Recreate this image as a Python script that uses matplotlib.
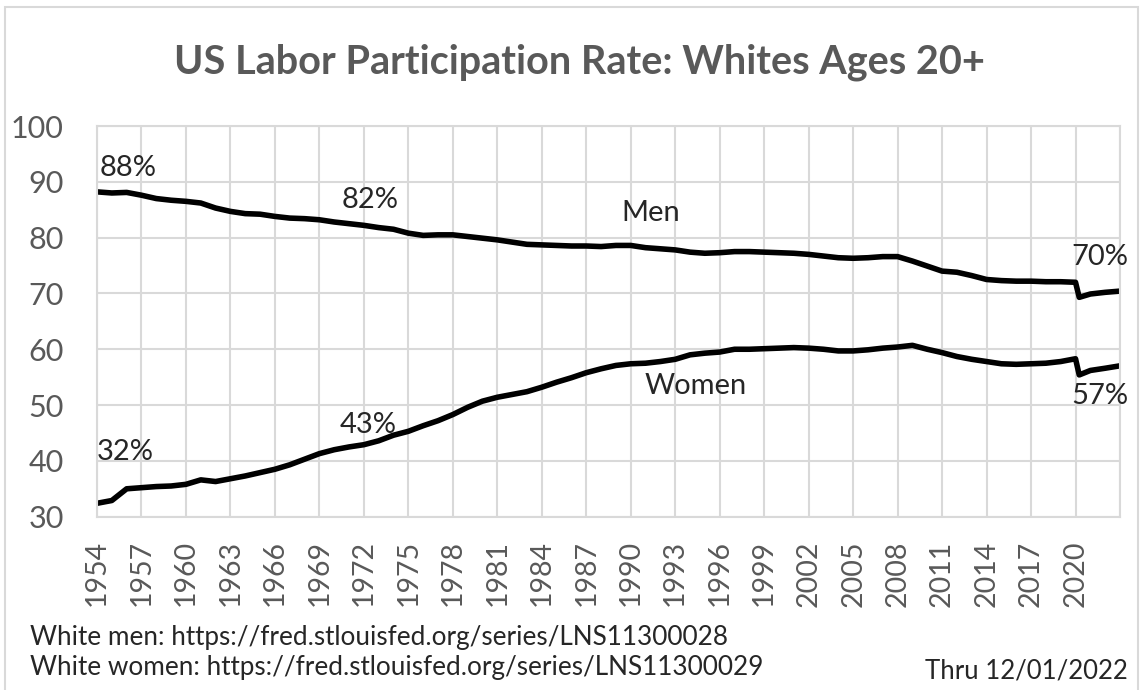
import matplotlib
matplotlib.use("Agg")
import matplotlib.pyplot as plt
from matplotlib.patches import Rectangle

# decimal-year dates (Jan of each year, plus Apr 2020 and Dec 2022)
dates = list(range(1954, 2021)) + [2020.25, 2021, 2022, 2022.92]

men = [88.2, 88.0, 88.1, 87.6, 87.0, 86.7, 86.5, 86.2, 85.3, 84.7,
       84.3, 84.2, 83.8, 83.5, 83.4, 83.2, 82.8, 82.5, 82.2, 81.8,
       81.5, 80.8, 80.4, 80.5, 80.5, 80.2, 79.9, 79.6, 79.2, 78.8,
       78.7, 78.6, 78.5, 78.5, 78.4, 78.6, 78.6, 78.2, 78.0, 77.8,
       77.4, 77.2, 77.3, 77.5, 77.5, 77.4, 77.3, 77.2, 77.0, 76.7,
       76.4, 76.3, 76.4, 76.6, 76.6, 75.8, 74.9, 74.0, 73.8, 73.2,
       72.5, 72.3, 72.2, 72.2, 72.1, 72.1, 72.0,
       69.3, 69.9, 70.2, 70.4]

women = [32.4, 32.9, 35.0, 35.2, 35.4, 35.5, 35.8, 36.6, 36.3, 36.8,
         37.3, 37.9, 38.5, 39.3, 40.3, 41.3, 42.0, 42.5, 42.9, 43.6,
         44.6, 45.3, 46.3, 47.2, 48.3, 49.6, 50.7, 51.4, 51.9, 52.4,
         53.2, 54.1, 54.9, 55.8, 56.5, 57.1, 57.4, 57.5, 57.8, 58.2,
         59.0, 59.3, 59.5, 60.0, 60.0, 60.1, 60.2, 60.3, 60.2, 60.0,
         59.7, 59.7, 59.9, 60.2, 60.4, 60.7, 60.0, 59.4, 58.7, 58.2,
         57.8, 57.4, 57.3, 57.4, 57.5, 57.8, 58.3,
         55.4, 56.2, 56.6, 57.0]

tick_years = list(range(1954, 2021, 3))
y_ticks = [30, 40, 50, 60, 70, 80, 90, 100]

labels = [("88%", 1954.2, 92.5), ("82%", 1970.5, 86.7), ("Men", 1989.4, 84.4),
          ("70%", 2019.75, 76.6), ("32%", 1954.0, 41.6), ("43%", 1970.4, 46.4),
          ("Women", 1990.95, 53.4), ("57%", 2019.75, 51.6)]

plt.rcParams['font.family'] = ['Lato', 'DejaVu Sans']
grey = '#595959'
grid = '#d9d9d9'
dark = '#262626'

fig = plt.figure(figsize=(11.43, 6.90), dpi=100)
fig.patches.append(Rectangle((5/1143, -0.05), 1133/1143, 1.05 - 7/690,
                             transform=fig.transFigure, fill=False,
                             edgecolor=grid, linewidth=1.5))

ax = fig.add_axes([97/1143, 1 - 516.7/690, (1120 - 97)/1143, (516.7 - 126)/690])
ax.plot(dates, men, color='black', lw=4, solid_joinstyle='round')
ax.plot(dates, women, color='black', lw=4, solid_joinstyle='round')

ax.set_xlim(1954, 2023)
ax.set_ylim(30, 100)
ax.set_xticks(tick_years + [2023])
ax.set_xticklabels([str(y) for y in tick_years] + [''], rotation=90)
ax.set_yticks(y_ticks)
ax.grid(True, color=grid, lw=1.5)
ax.set_axisbelow(True)
for s in ax.spines.values():
    s.set_color(grid)
    s.set_linewidth(1.5)
ax.tick_params(length=0, colors=grey)
ax.tick_params(axis='x', labelsize=20.5, pad=17)
ax.tick_params(axis='y', labelsize=22, pad=24)

for txt, x, y in labels:
    ax.text(x, y, txt, fontsize=21, color=dark, ha='left', va='center')

fig.text(0.507, 0.910, "US Labor Participation Rate: Whites Ages 20+",
         ha='center', va='center', fontsize=28.5, fontweight='bold', color=grey)
fig.text(30/1143, 1 - 637/690, "White men: https://fred.stlouisfed.org/series/LNS11300028",
         ha='left', va='center', fontsize=18.8, color=dark)
fig.text(30/1143, 1 - 668/690, "White women: https://fred.stlouisfed.org/series/LNS11300029",
         ha='left', va='center', fontsize=18.8, color=dark)
fig.text(1128/1143, 1 - 671/690, "Thru 12/01/2022",
         ha='right', va='center', fontsize=18.5, color=dark)

fig.savefig("out.png", dpi=100)
